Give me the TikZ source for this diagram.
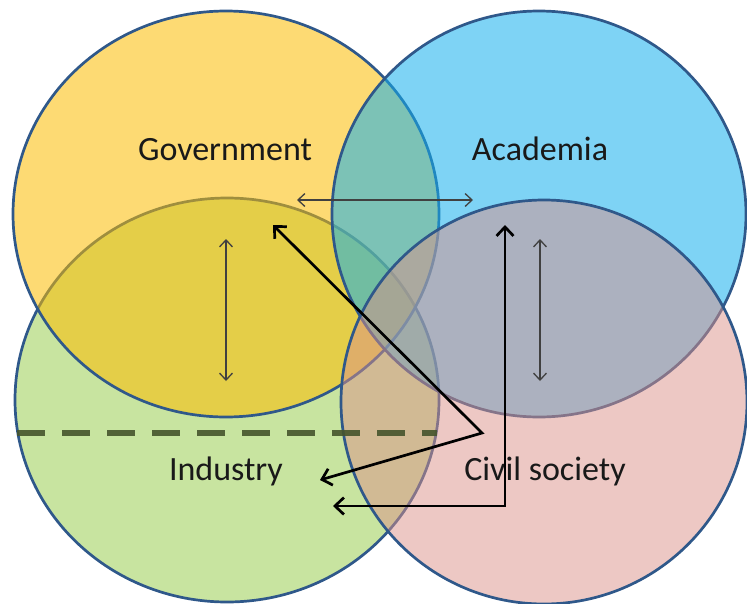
\documentclass[tikz,border=0pt]{standalone}
\usepackage{fontspec}
\setmainfont{Carlito}
\usetikzlibrary{arrows.meta}
\definecolor{govfill}{RGB}{251,188,0}
\definecolor{acafill}{RGB}{20,175,237}
\definecolor{indfill}{RGB}{155,206,82}
\definecolor{civfill}{RGB}{219,145,137}
\definecolor{rim}{RGB}{47,88,138}
\definecolor{dashgreen}{RGB}{70,84,44}
\tikzset{
	sector/.style={ draw=rim, line width=2.7pt, fill opacity=0.55 },
	sectorlabel/.style={ anchor=base, text=black!90, font=\fontsize{34}{40}\selectfont },
	link/.style={ draw=black!75, line width=1.3pt,
		{Straight Barb[length=7pt,width=13pt]}-{Straight Barb[length=7pt,width=13pt]} },
	flow/.style={ draw=black, line width=2.7pt,
		{Straight Barb[length=9pt,width=17pt]}-{Straight Barb[length=9pt,width=17pt]} }
}
\begin{document}
\begin{tikzpicture}[ x=1pt, y=-1pt ]
	\useasboundingbox (0,0) rectangle (747,603);
	% Industry circle
	\draw[ sector, fill=indfill ] (227,400) ellipse [ x radius=212pt, y radius=202pt ];
	% Government circle
	\draw[ sector, fill=govfill ] (226,214) ellipse [ x radius=213pt, y radius=203pt ];
	% Academia circle
	\draw[ sector, fill=acafill ] (539,214) ellipse [ x radius=207pt, y radius=203pt ];
	% Civil society circle
	\draw[ sector, fill=civfill, fill opacity=0.5 ] (544,402) ellipse [ x radius=203pt, y radius=202pt ];
	% Dashed split of industry
	\coordinate (dash-l) at (17,433);
	\coordinate (dash-r) at (437,433);
	\draw[ dashgreen, line width=6pt, dash pattern=on 28pt off 17pt, opacity=0.9 ] (dash-l) -- (dash-r);
	% Labels
	\node[ sectorlabel ] (gov) at (225,160) {Government};
	\node[ sectorlabel ] (aca) at (540,160) {Academia};
	\node[ sectorlabel ] (ind) at (226,480) {Industry};
	\node[ sectorlabel ] (civ) at (545,480) {Civil society};
	% Government -- Academia
	\coordinate (ga-l) at (297,200);
	\coordinate (ga-r) at (473,200);
	\draw[ link ] (ga-l) -- (ga-r);
	% Government -- Industry
	\coordinate (gi-t) at (226,239);
	\coordinate (gi-b) at (226,381);
	\draw[ link ] (gi-t) -- (gi-b);
	% Academia -- Civil society
	\coordinate (ac-t) at (540,239);
	\coordinate (ac-b) at (540,381);
	\draw[ link ] (ac-t) -- (ac-b);
	% Bent flow to government and industry
	\coordinate (bend-g) at (273,225);
	\coordinate (bend-apex) at (482,433);
	\coordinate (bend-i) at (320,480);
	\draw[ flow ] (bend-g) -- (bend-apex) -- (bend-i);
	% Square flow to academia and industry
	\coordinate (sq-a) at (505,225);
	\coordinate (sq-corner) at (505,506);
	\coordinate (sq-i) at (333,506);
	\draw[ flow ] (sq-a) -- (sq-corner) -- (sq-i);
\end{tikzpicture}
\end{document}
